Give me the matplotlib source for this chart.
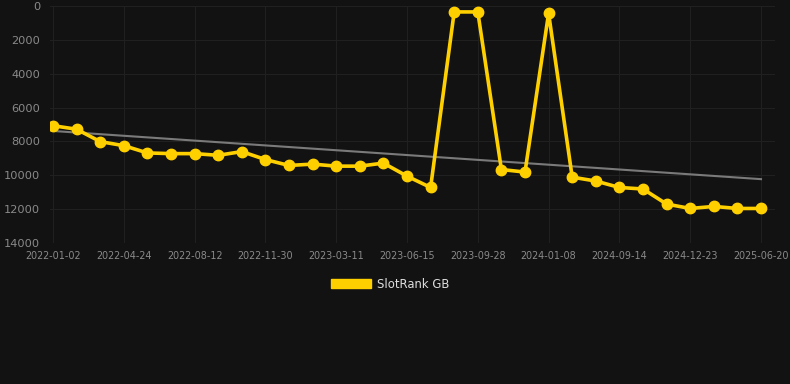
import matplotlib
matplotlib.use("Agg")
import matplotlib.pyplot as plt
from matplotlib.patches import Patch
import numpy as np

BG = "#121212"
GOLD = "#FFD000"
GRID = "#202020"
TXT = "#8a8a8a"

# SlotRank GB rank per snapshot (lower is better, axis inverted)
rank = [7070, 7280, 8010, 8250, 8680, 8720, 8720, 8820, 8600, 9070,
        9420, 9340, 9460, 9460, 9280, 10050, 10720, 350, 350, 9660,
        9810, 430, 10110, 10340, 10720, 10810, 11700, 11960, 11840, 11960,
        11960]
# labels shown on every third snapshot
tick_labels = ["2022-01-02", "2022-04-24", "2022-08-12", "2022-11-30",
               "2023-03-11", "2023-06-15", "2023-09-28", "2024-01-08",
               "2024-09-14", "2024-12-23", "2025-06-20"]
y_ticks = [0, 2000, 4000, 6000, 8000, 10000, 12000, 14000]

W, H = 790, 384
fig = plt.figure(figsize=(W / 100, H / 100), dpi=100)
fig.patch.set_facecolor(BG)
ax = fig.add_axes([50 / W, 1 - 243 / H, 725 / W, 237 / H])
ax.set_facecolor(BG)

x = np.arange(len(rank))
# linear trend
k, b = np.polyfit(x, rank, 1)
ax.plot(x, k * x + b, color="#7a7a7a", lw=1.5, zorder=2)
ax.plot(x, rank, color=GOLD, lw=2.6, marker="o", ms=7.5, zorder=3,
        solid_joinstyle="round")

ax.set_xlim(-3 / 23.6, 30 + 14 / 23.6)
ax.set_ylim(14000, 0)
ax.set_yticks(y_ticks)
ax.set_yticklabels([str(v) for v in y_ticks])
ax.set_xticks(x[::3])
ax.set_xticklabels(tick_labels)
ax.tick_params(axis="y", colors=TXT, labelsize=8.2, length=0, pad=7)
ax.tick_params(axis="x", colors=TXT, labelsize=6.9, length=0, pad=6)
for lab in ax.get_xticklabels() + ax.get_yticklabels():
    lab.set_color(TXT)
ax.grid(True, color=GRID, lw=0.8)
ax.set_axisbelow(True)
for s in ax.spines.values():
    s.set_visible(False)

fig.legend(handles=[Patch(facecolor=GOLD, edgecolor=GOLD)], labels=["SlotRank GB"],
           loc="center", bbox_to_anchor=(390 / W, 1 - 284 / H), frameon=False,
           fontsize=8.4, labelcolor="#dddddd", handlelength=3.4, handleheight=0.9,
           handletextpad=0.5)

fig.savefig("out.png", dpi=100, facecolor=BG)
